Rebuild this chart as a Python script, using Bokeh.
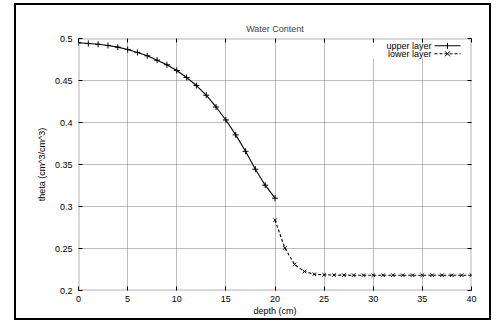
from bokeh.plotting import figure
from bokeh.models import LinearAxis, FixedTicker, Label, Arrow, BoxAnnotation, Range1d, Grid
from bokeh.embed import file_html
from bokeh.resources import INLINE

depth_upper = list(range(0, 21))
theta_upper = [0.4949, 0.4940, 0.4931, 0.4917, 0.4897, 0.4869, 0.4834, 0.4794,
               0.4742, 0.4687, 0.4619, 0.4536, 0.4440, 0.4325, 0.4185, 0.4030,
               0.3853, 0.3657, 0.3444, 0.3254, 0.3099]
depth_lower = list(range(20, 41))
theta_lower = [0.2838, 0.2506, 0.2310, 0.2226, 0.2194, 0.2187, 0.2184, 0.2183,
               0.2182, 0.2182, 0.2182, 0.2182, 0.2182, 0.2182, 0.2182, 0.2182,
               0.2182, 0.2182, 0.2182, 0.2182, 0.2182]
x_ticks = [0, 5, 10, 15, 20, 25, 30, 35, 40]
x_tick_labels = ["0", "5", "10", "15", "20", "25", "30", "35", "40"]
y_ticks = [0.2, 0.25, 0.3, 0.35, 0.4, 0.45, 0.5]
y_tick_labels = ["0.2", "0.25", "0.3", "0.35", "0.4", "0.45", "0.5"]

FONT = "Liberation Sans"
FS = "9px"

p = figure(width=477, height=317, output_backend="svg", toolbar_location=None,
           x_range=Range1d(0, 40), y_range=Range1d(0.2, 0.5),
           min_border_left=62, min_border_right=22, min_border_top=33, min_border_bottom=32,
           x_axis_type=None, y_axis_type=None,
           styles={"margin-left": "14px", "margin-top": "3px",
                   "border": "2px solid black"})

p.title.text = "Water Content"
p.title.align = "center"
p.title.text_font = FONT
p.title.text_font_size = FS
p.title.text_font_style = "normal"
p.title.standoff = 9

def mk_axis(ticks, labels, show_labels, label=None):
    ax = LinearAxis(ticker=FixedTicker(ticks=ticks))
    if show_labels:
        ax.major_label_overrides = {t: l for t, l in zip(ticks, labels)}
    else:
        ax.major_label_overrides = {t: "" for t in ticks}
    ax.major_tick_in = 4
    ax.major_tick_out = 0
    ax.minor_tick_line_color = None
    ax.axis_line_color = None
    ax.major_tick_line_color = "black"
    ax.major_label_text_font = FONT
    ax.major_label_text_font_size = FS
    ax.major_label_text_color = "black"
    ax.major_label_standoff = 5 if show_labels else 0
    if label:
        ax.axis_label = label
        ax.axis_label_text_font = FONT
        ax.axis_label_text_font_size = FS
        ax.axis_label_text_font_style = "normal"
        ax.axis_label_text_color = "black"
        ax.axis_label_standoff = 6
    return ax

xa = mk_axis(x_ticks, x_tick_labels, True, "depth (cm)")
xa.major_label_standoff = 5
xa.axis_label_standoff = 1
ya = mk_axis(y_ticks, y_tick_labels, True, "theta (cm^3/cm^3)")
ya.major_label_standoff = 6
ya.axis_label_standoff = 5
xt = mk_axis(x_ticks, x_tick_labels, False)
yr = mk_axis(y_ticks, y_tick_labels, False)
p.add_layout(xa, "below")
p.add_layout(ya, "left")
p.add_layout(xt, "above")
p.add_layout(yr, "right")

for dim, ticks in ((0, x_ticks), (1, y_ticks)):
    g = Grid(dimension=dim, ticker=FixedTicker(ticks=ticks))
    g.grid_line_color = "#7a7a7a"
    g.grid_line_dash = "1 1"
    g.grid_line_width = 1
    p.add_layout(g)

p.outline_line_color = None
p.background_fill_color = "white"
p.border_fill_color = "white"

# key background (hides grid behind the key)
p.add_layout(BoxAnnotation(left=29.2, bottom=0.4762, fill_color="white", fill_alpha=1,
                           line_color=None, level="underlay"))

p.line(depth_upper, theta_upper, line_color="black", line_width=1.1)
p.scatter(depth_upper, theta_upper, marker="cross", size=6, line_color="black", line_width=1)
p.line(depth_lower, theta_lower, line_color="black", line_width=1.1, line_dash="3 2")
p.scatter(depth_lower, theta_lower, marker="x", size=5, line_color="black", line_width=1)

# frame border drawn on top
p.add_layout(BoxAnnotation(fill_alpha=0, fill_color=None, line_color="black",
                           line_width=2, level="overlay"))

# key (text right-aligned, sample to the right)
key_rows = [("upper layer", 244.7, "solid"), ("lower layer", 236.7, "3 2")]
for text, yy, dash in key_rows:
    p.add_layout(Label(x=353, y=yy, x_units="screen", y_units="screen", text=text,
                       text_align="right", text_baseline="middle", text_font=FONT,
                       text_font_size=FS, text_color="black"))
    p.add_layout(Arrow(x_start=356, y_start=yy, x_end=382, y_end=yy,
                       start_units="screen", end_units="screen", start=None, end=None,
                       line_color="black", line_width=1.1, line_dash=dash))
# key markers
p.add_layout(Arrow(x_start=369, y_start=244.7 - 3, x_end=369, y_end=244.7 + 3,
                   start_units="screen", end_units="screen", start=None, end=None,
                   line_color="black", line_width=1))
p.add_layout(Arrow(x_start=369 - 2.5, y_start=236.7 - 2.5, x_end=369 + 2.5, y_end=236.7 + 2.5,
                   start_units="screen", end_units="screen", start=None, end=None,
                   line_color="black", line_width=1))
p.add_layout(Arrow(x_start=369 - 2.5, y_start=236.7 + 2.5, x_end=369 + 2.5, y_end=236.7 - 2.5,
                   start_units="screen", end_units="screen", start=None, end=None,
                   line_color="black", line_width=1))

open("out.html", "w").write(file_html(p, INLINE))
